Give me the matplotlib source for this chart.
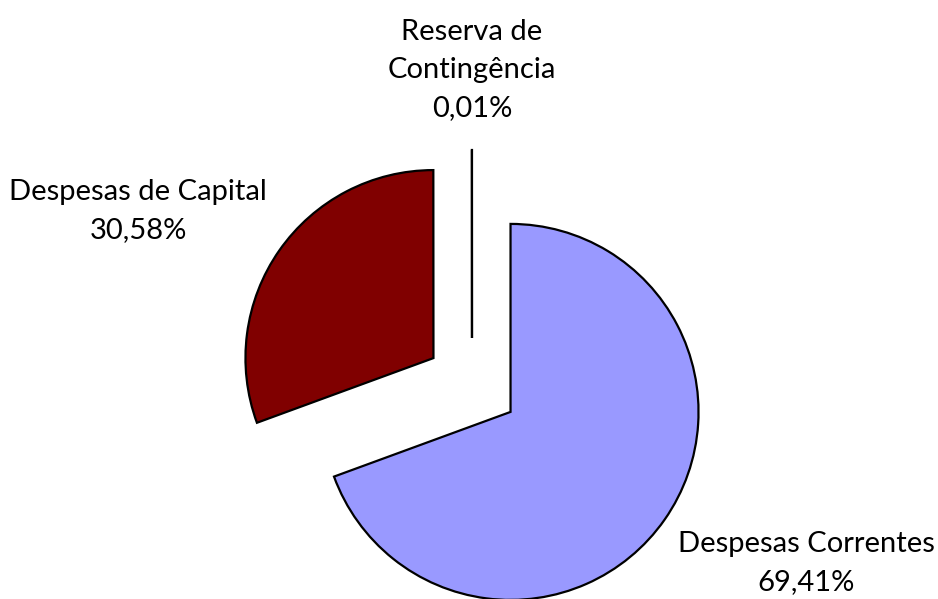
import matplotlib
matplotlib.use("Agg")
import matplotlib.pyplot as plt

categories = ["Despesas Correntes", "Despesas de Capital", "Reserva de\nContingência"]
values = [69.41, 30.58, 0.01]
value_labels = ["69,41%", "30,58%", "0,01%"]
colors = ["#9999FF", "#800000", "#FFFFCC"]

plt.rcParams['font.family'] = ['Lato', 'DejaVu Sans']

fig = plt.figure(figsize=(9.38, 5.99), dpi=100)
ax = fig.add_axes([0, 0, 1, 1])
cx, cy, r = 472, 385, 188
ax.pie(values, colors=colors, startangle=90, counterclock=False,
       explode=[0.25, 0.25, 0.25], radius=1,
       wedgeprops=dict(edgecolor='black', linewidth=1.6))
ax.set_xlim((0 - cx) / r, (938 - cx) / r)
ax.set_ylim((cy - 599) / r, (cy - 0) / r)
ax.set_aspect('auto')
ax.axis('off')

label_pos = [(806, 563), (138, 211), (472, 70)]
for cat, vl, (px, py) in zip(categories, value_labels, label_pos):
    ax.text((px - cx) / r, (cy - py) / r, f"{cat}\n{vl}", ha='center', va='center',
            fontsize=21, linespacing=1.55, color='black')

fig.savefig("out.png", dpi=100)
